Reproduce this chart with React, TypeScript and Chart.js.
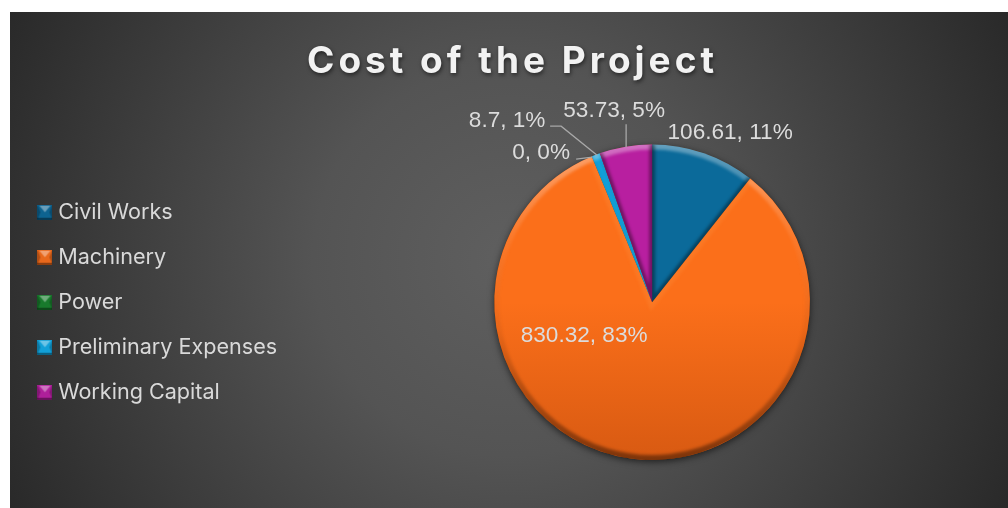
import React, { useEffect, useRef } from "react";
import { Chart, registerables } from "chart.js";

Chart.register(...registerables);

const titleText = "Cost of the Project";
const categories = ["Civil Works", "Machinery", "Power", "Preliminary Expenses", "Working Capital"];
const values = [106.61, 830.32, 0, 8.7, 53.73];
const topColors = ["#0B6A9A", "#FB6F1A", "#1C8030", "#12A0D8", "#B81FA0"];
const bottomColors = ["#095276", "#D85A12", "#145C22", "#0B7FAA", "#8E1A7E"];
const legendColors = ["#0D6390", "#E8681C", "#187A2C", "#12A0D8", "#AE1F9A"];

const FONT = "Inter, 'Open Sans', sans-serif";
const LABEL_FONT = "'Liberation Sans', Arial, sans-serif";
const total = values.reduce((a, b) => a + b, 0);

// Label placement relative to the pie centre: text centre, then optional leader line.
const labelLayout = [
  { dx: 78, dy: -169, line: null },
  { dx: -68, dy: 34, line: null },
  { dx: -111, dy: -149, line: [[-76, -143], [-60, -145]] },
  { dx: -145, dy: -181, line: [[-102, -176], [-91, -176], [-55, -147]] },
  { dx: -38, dy: -191, line: [[-26, -178], [-26, -155]] },
];

function bevelMarker(color: string): HTMLCanvasElement {
  const s = 15;
  const c = document.createElement("canvas");
  c.width = s;
  c.height = s;
  const x = c.getContext("2d")!;
  x.fillStyle = color;
  x.fillRect(0, 0, s, s);
  const tri = (pts: number[][], fill: string) => {
    x.beginPath();
    x.moveTo(pts[0][0], pts[0][1]);
    x.lineTo(pts[1][0], pts[1][1]);
    x.lineTo(pts[2][0], pts[2][1]);
    x.closePath();
    x.fillStyle = fill;
    x.fill();
  };
  const m = s / 2;
  tri([[2, 1], [s - 2, 1], [m, m]], "rgba(255,255,255,0.38)");
  tri([[0, 0], [0, s], [3, m]], "rgba(0,0,0,0.25)");
  tri([[s, 0], [s, s], [s - 3, m]], "rgba(0,0,0,0.25)");
  x.fillStyle = "rgba(0,0,0,0.4)";
  x.fillRect(0, s - 2, s, 2);
  return c;
}

const backdrop = {
  id: "backdrop",
  beforeLayout(chart: any) {
    const lg = chart.legend;
    if (lg && !lg.__widened) {
      const fit = lg.fit;
      lg.fit = function () {
        fit.call(this);
        this.width += 11;
      };
      lg.__widened = true;
    }
  },
  beforeDraw(chart: any) {
    const { ctx, width, height } = chart;
    const g = ctx.createRadialGradient(width / 2, height / 2, 0, width / 2, height / 2, width * 0.56);
    g.addColorStop(0, "#5f5f5f");
    g.addColorStop(0.35, "#545454");
    g.addColorStop(1, "#292929");
    ctx.save();
    ctx.fillStyle = g;
    ctx.fillRect(0, 0, width, height);
    ctx.restore();
    const tb = chart.titleBlock;
    if (tb && !tb.__spaced) {
      const original = tb.draw;
      tb.draw = function (...args: any[]) {
        const c = chart.ctx;
        c.save();
        c.letterSpacing = "4px";
        c.shadowColor = "rgba(0,0,0,0.55)";
        c.shadowBlur = 4;
        c.shadowOffsetY = 2;
        c.shadowOffsetX = 1;
        original.apply(this, args);
        c.restore();
      };
      tb.__spaced = true;
    }
  },
};

const pieEffects = {
  id: "pieEffects",
  beforeDatasetsDraw(chart: any) {
    const first = chart.getDatasetMeta(0).data[0];
    if (!first) return;
    const { ctx } = chart;
    ctx.save();
    ctx.shadowColor = "rgba(0,0,0,0.6)";
    ctx.shadowBlur = 7;
    ctx.shadowOffsetY = 2;
    ctx.fillStyle = "#7a3a10";
    ctx.beginPath();
    ctx.arc(first.x, first.y, first.outerRadius, 0, Math.PI * 2);
    ctx.fill();
    ctx.restore();
  },
  afterDatasetsDraw(chart: any) {
    const { ctx } = chart;
    const arcs = chart.getDatasetMeta(0).data;
    arcs.forEach((arc: any) => {
      const { x, y, startAngle, endAngle, outerRadius: r } = arc;
      const sweep = endAngle - startAngle;
      if (sweep <= 0) return;
      ctx.save();
      ctx.beginPath();
      ctx.moveTo(x, y);
      ctx.arc(x, y, r, startAngle, endAngle);
      ctx.closePath();
      ctx.clip();
      ctx.filter = "blur(1.5px)";
      const rim = ctx.createLinearGradient(0, y - r, 0, y + r);
      rim.addColorStop(0, "rgba(255,255,255,0.36)");
      rim.addColorStop(0.3, "rgba(255,255,255,0.07)");
      rim.addColorStop(0.6, "rgba(0,0,0,0.05)");
      rim.addColorStop(1, "rgba(0,0,0,0.42)");
      ctx.strokeStyle = rim;
      ctx.lineWidth = 8;
      ctx.beginPath();
      ctx.arc(x, y, r - 1, startAngle, endAngle);
      ctx.stroke();
      const small = sweep < Math.PI;
      const narrow = sweep < 0.1;
      ctx.strokeStyle = narrow ? "rgba(0,0,0,0.12)" : small ? "rgba(0,0,0,0.38)" : "rgba(255,170,90,0.16)";
      ctx.lineWidth = narrow ? 1 : small ? 6 : 9;
      ctx.beginPath();
      ctx.moveTo(x + r * Math.cos(startAngle), y + r * Math.sin(startAngle));
      ctx.lineTo(x, y);
      ctx.lineTo(x + r * Math.cos(endAngle), y + r * Math.sin(endAngle));
      ctx.stroke();
      ctx.restore();
    });
  },
  afterDraw(chart: any) {
    const { ctx } = chart;
    const arcs = chart.getDatasetMeta(0).data;
    const cx = arcs[0].x;
    const cy = arcs[0].y;
    ctx.save();
    ctx.font = `22.6px ${LABEL_FONT}`;
    ctx.textAlign = "center";
    ctx.textBaseline = "middle";
    values.forEach((v, i) => {
      const l = labelLayout[i];
      if (l.line) {
        ctx.strokeStyle = "#a8a8a8";
        ctx.lineWidth = 1.3;
        ctx.beginPath();
        l.line.forEach((p, k) => {
          if (k === 0) ctx.moveTo(cx + p[0], cy + p[1]);
          else ctx.lineTo(cx + p[0], cy + p[1]);
        });
        ctx.stroke();
      }
      ctx.fillStyle = "#dcdcdc";
      ctx.fillText(`${v}, ${Math.round((v / total) * 100)}%`, cx + l.dx, cy + l.dy);
    });
    ctx.restore();
  },
};

export default function App() {
  const ref = useRef<HTMLCanvasElement>(null);
  useEffect(() => {
    const chart = new Chart(ref.current!, {
      type: "pie",
      data: {
        labels: categories,
        datasets: [
          {
            data: values,
            borderWidth: 0,
            backgroundColor: (c: any) => {
              const area = c.chart.chartArea;
              if (!area) return topColors[c.dataIndex];
              const g = c.chart.ctx.createLinearGradient(0, area.top, 0, area.bottom);
              g.addColorStop(0, topColors[c.dataIndex]);
              g.addColorStop(0.5, topColors[c.dataIndex]);
              g.addColorStop(1, bottomColors[c.dataIndex]);
              return g;
            },
          },
        ],
      },
      options: {
        responsive: false,
        animation: false,
        events: [],
        layout: { padding: { left: 9, right: 2, top: 0, bottom: 48 } },
        plugins: {
          tooltip: { enabled: false },
          title: {
            display: true,
            text: titleText,
            color: "#f2f2f2",
            font: { family: FONT, size: 37, weight: "bold" },
            padding: { top: 28, bottom: 60 },
          },
          legend: {
            position: "left",
            align: "center",
            fullSize: false,
            labels: {
              color: "#d9d9d9",
              font: { family: FONT, size: 21.6 },
              padding: 23.4,
              usePointStyle: true,
              pointStyleWidth: 5,
              boxHeight: 15,
              generateLabels: () =>
                categories.map((text, i) => ({
                  text,
                  fontColor: "#d9d9d9",
                  pointStyle: bevelMarker(legendColors[i]),
                  index: i,
                  hidden: false,
                })),
            },
          },
        },
      } as any,
      plugins: [backdrop, pieEffects],
    });
    return () => chart.destroy();
  }, []);
  return (
    <canvas
      ref={ref}
      width={998}
      height={496}
      style={{ position: "absolute", left: 10, top: 12, width: 998, height: 496, display: "block" }}
    />
  );
}
